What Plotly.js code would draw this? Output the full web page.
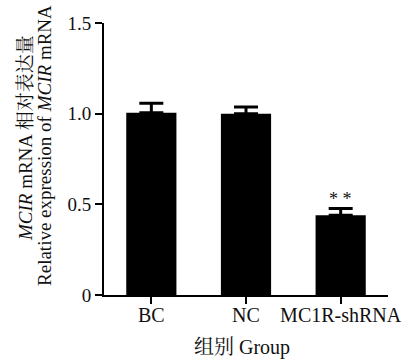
<!DOCTYPE html>
<html>
<head>
<meta charset="utf-8">
<script src="https://cdn.plot.ly/plotly-3.0.1.min.js"></script>
<style>html,body{margin:0;padding:0;background:#fff;}#chart{width:413px;height:364px;}</style>
</head>
<body>
<div id="chart"></div>
<script>
const categories = ['BC', 'NC', 'MC1R-shRNA'];
const values = [1.005, 1.0, 0.44];
const errors = [0.053, 0.037, 0.037];
const yTickVals = [0, 0.5, 1.0, 1.5];
const yTickText = ['0', '0.5', '1.0', '1.5'];
const sigLabels = ['', '', '* *'];
const yTitleLines = ['<i>MCIR</i> mRNA 相对表达量', 'Relative expression of <i>MCIR</i> mRNA'];
const xTitle = '组别 Group';

const FONT = 'Liberation Serif, Times New Roman, Noto Serif CJK SC, Noto Sans CJK SC, serif';

const trace = {
  type: 'bar',
  x: categories,
  y: values,
  width: 0.53,
  marker: {color: '#000', line: {width: 0}},
  error_y: {
    type: 'data',
    symmetric: false,
    array: errors,
    arrayminus: errors.map(() => 0),
    color: '#000',
    thickness: 3,
    width: 12
  },
  hoverinfo: 'none'
};

const annotations = [];
categories.forEach((c, i) => {
  if (sigLabels[i]) {
    annotations.push({
      x: c, y: values[i] + errors[i], xref: 'x', yref: 'y',
      text: sigLabels[i], showarrow: false,
      yanchor: 'bottom', yshift: -2,
      font: {family: FONT, size: 18, color: '#111'}
    });
  }
});
const titleX = [-79, -59];
const titleY = [0.577, 0.548];
yTitleLines.forEach((t, i) => {
  annotations.push({
    xref: 'paper', yref: 'paper', x: 0, y: titleY[i],
    xanchor: 'center', yanchor: 'middle', xshift: titleX[i],
    textangle: -90, showarrow: false,
    text: t,
    font: {family: FONT, size: 19, color: '#111'}
  });
});
annotations.push({
  xref: 'paper', yref: 'paper', x: 0.5, y: 0,
  xanchor: 'center', yanchor: 'middle', xshift: -4, yshift: -52,
  showarrow: false, text: xTitle,
  font: {family: FONT, size: 20, color: '#111'}
});

const layout = {
  width: 413, height: 364,
  margin: {l: 104, r: 25, t: 23, b: 69},
  paper_bgcolor: '#fff', plot_bgcolor: '#fff',
  showlegend: false,
  font: {family: FONT, color: '#111'},
  bargap: 0.47,
  xaxis: {
    type: 'category',
    range: [-0.5, 2.5],
    showline: true, linecolor: '#000', linewidth: 2,
    ticks: 'outside', ticklen: 7, tickwidth: 2, tickcolor: '#000',
    ticklabelstandoff: -6,
    showgrid: false, zeroline: false,
    tickfont: {family: FONT, size: 20, color: '#111'}
  },
  yaxis: {
    range: [0, 1.5],
    tickvals: yTickVals, ticktext: yTickText,
    showline: true, linecolor: '#000', linewidth: 2,
    ticks: 'outside', ticklen: 7, tickwidth: 2, tickcolor: '#000',
    showgrid: false, zeroline: false,
    tickfont: {family: FONT, size: 19, color: '#111'}
  },
  annotations: annotations
};

Plotly.newPlot('chart', [trace], layout, {staticPlot: true, displayModeBar: false});
</script>
</body>
</html>
